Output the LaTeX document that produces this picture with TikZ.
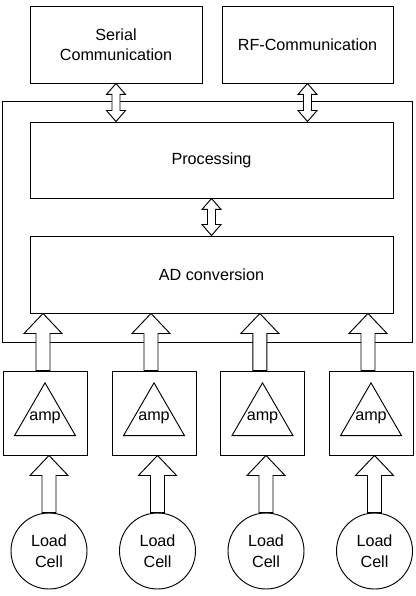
\documentclass[tikz,border=0pt]{standalone}
\usepackage{fontspec}
\setmainfont{Liberation Sans}
\usepackage{tikz}
\usetikzlibrary{positioning,calc,shapes.geometric}
\tikzset{
  blockbox/.style={draw=black,line width=0.8pt,fill=white,
    font=\fontsize{13.8}{17.5}\selectfont,align=center,inner sep=2pt},
  ampbox/.style={draw=black,line width=0.8pt,minimum width=2.52cm,
    minimum height=2.52cm,inner sep=0pt},
  amptri/.style={draw=black,line width=0.8pt,regular polygon,
    regular polygon sides=3,minimum size=2.11cm,inner sep=0pt,
    label={[font=\fontsize{13.8}{17.5}\selectfont,inner sep=0pt]center:#1}},
  cellnode/.style={draw=black,line width=0.8pt,circle,minimum size=2.28cm,
    inner sep=0pt,font=\fontsize{13.8}{17.5}\selectfont,align=center},
  fatup/.style={draw=black,line width=0.8pt,fill=white,to path={
    let \p1=(\tikztostart), \p2=(\tikztotarget) in
    (\x1-0.21cm,\y1) -- (\x1-0.21cm,\y2-0.6cm) -- (\x1-0.57cm,\y2-0.6cm)
    -- (\x1,\y2) -- (\x1+0.57cm,\y2-0.6cm) -- (\x1+0.21cm,\y2-0.6cm)
    -- (\x1+0.21cm,\y1) -- cycle}},
  fatboth/.style={draw=black,line width=0.8pt,fill=white,to path={
    let \p1=(\tikztostart), \p2=(\tikztotarget) in
    (\x1-0.12cm,\y1+0.33cm) -- (\x1-0.285cm,\y1+0.33cm) -- (\x1,\y1)
    -- (\x1+0.285cm,\y1+0.33cm) -- (\x1+0.12cm,\y1+0.33cm)
    -- (\x1+0.12cm,\y2-0.33cm) -- (\x1+0.285cm,\y2-0.33cm) -- (\x1,\y2)
    -- (\x1-0.285cm,\y2-0.33cm) -- (\x1-0.12cm,\y2-0.33cm) -- cycle}},
}
\begin{document}
\begin{tikzpicture}
  \useasboundingbox (0,0) rectangle (12.48,-17.88);
  % communication
  \node[blockbox,minimum width=5.16cm,minimum height=2.31cm] (ser) at (3.48,-1.335) {Serial\\Communication};
  \node[blockbox,minimum width=5.13cm,minimum height=2.31cm] (rf) at (9.225,-1.335) {RF-Communication};
  % controller
  \node[blockbox,minimum width=12.3cm,minimum height=7.23cm] (mcu) at (6.21,-6.645) {};
  \node[blockbox,minimum width=10.89cm,minimum height=2.28cm] (proc) at (6.345,-4.8) {Processing};
  \node[blockbox,minimum width=10.89cm,minimum height=2.31cm] (adc) at (6.345,-8.235) {AD conversion};
  % amplifiers
  \node[ampbox] (amp1) at (1.35,-12.39) {};
  \node[ampbox] (amp2) at (4.62,-12.39) {};
  \node[ampbox] (amp3) at (7.875,-12.39) {};
  \node[ampbox] (amp4) at (11.13,-12.39) {};
  \node[amptri=amp] (tri1) at ([yshift=-0.15cm]amp1.center) {};
  \node[amptri=amp] (tri2) at ([yshift=-0.15cm]amp2.center) {};
  \node[amptri=amp] (tri3) at ([yshift=-0.15cm]amp3.center) {};
  \node[amptri=amp] (tri4) at ([yshift=-0.15cm]amp4.center) {};
  % load cells
  \node[cellnode] (cell1) at (1.47,-16.53) {Load\\Cell};
  \node[cellnode] (cell2) at (4.725,-16.53) {Load\\Cell};
  \node[cellnode] (cell3) at (7.98,-16.53) {Load\\Cell};
  \node[cellnode] (cell4) at (11.235,-16.53) {Load\\Cell};
  % arrows
  \draw[fatboth] (proc.north -| ser.south) to (ser.south);
  \draw[fatboth] (proc.north -| rf.south) to (rf.south);
  \draw[fatboth] (adc.north) to (proc.south);
  \draw[fatup] ([xshift=-0.06cm]amp1.north) to ([xshift=-0.06cm]amp1.north |- adc.south);
  \draw[fatup] ([xshift=-0.09cm]amp2.north) to ([xshift=-0.09cm]amp2.north |- adc.south);
  \draw[fatup] ([xshift=-0.08cm]amp3.north) to ([xshift=-0.08cm]amp3.north |- adc.south);
  \draw[fatup] ([xshift=-0.09cm]amp4.north) to ([xshift=-0.09cm]amp4.north |- adc.south);
  \draw[fatup] (cell1.north) to (cell1.north |- amp1.south);
  \draw[fatup] (cell2.north) to (cell2.north |- amp2.south);
  \draw[fatup] (cell3.north) to (cell3.north |- amp3.south);
  \draw[fatup] (cell4.north) to (cell4.north |- amp4.south);
\end{tikzpicture}
\end{document}
